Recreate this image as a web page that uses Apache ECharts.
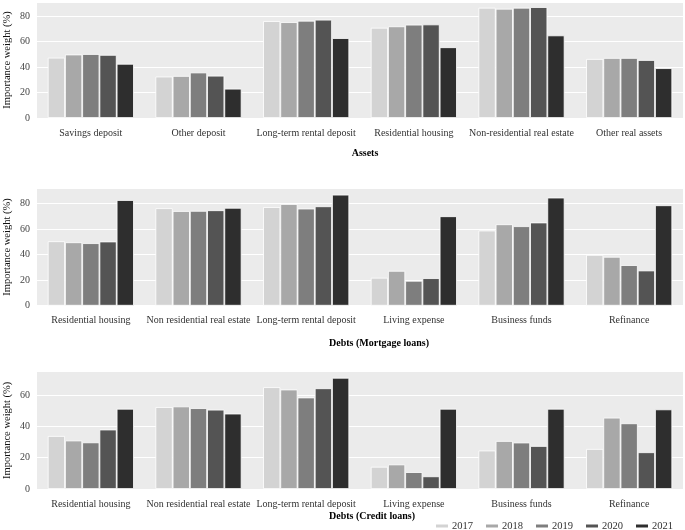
<!DOCTYPE html>
<html><head><meta charset="utf-8">
<script src="https://cdn.jsdelivr.net/npm/echarts@6/dist/echarts.min.js"></script>
<style>html,body{margin:0;padding:0;background:#fff}#c{width:685px;height:530px}</style>
</head><body><div id="c"></div>
<script>
const years = ['2017','2018','2019','2020','2021'];
const assetCats = ['Savings deposit','Other deposit','Long-term rental deposit','Residential housing','Non-residential real estate','Other real assets'];
const mortgageCats = ['Residential housing','Non residential real estate','Long-term rental deposit','Living expense','Business funds','Refinance'];
const creditCats = ['Residential housing','Non residential real estate','Long-term rental deposit','Living expense','Business funds','Refinance'];
// values per year, per category
const assets2017 = [47.3, 32.5, 76.0, 70.8, 86.5, 46.3];
const assets2018 = [49.8, 33.0, 75.2, 71.9, 85.7, 47.1];
const assets2019 = [50.2, 35.7, 76.3, 73.2, 86.5, 47.1];
const assets2020 = [49.5, 33.2, 77.1, 73.4, 87.0, 45.5];
const assets2021 = [42.5, 23.0, 62.7, 55.5, 64.8, 39.1];
const mortgage2017 = [50.5, 76.4, 77.3, 21.9, 58.9, 39.8];
const mortgage2018 = [49.7, 74.2, 79.7, 27.3, 63.8, 38.3];
const mortgage2019 = [49.0, 74.3, 76.1, 19.5, 62.3, 31.8];
const mortgage2020 = [50.3, 74.8, 77.9, 21.6, 65.2, 27.6];
const mortgage2021 = [82.8, 76.7, 87.0, 70.1, 84.7, 78.7];
const credit2017 = [33.9, 52.4, 65.1, 14.2, 24.6, 25.6];
const credit2018 = [31.0, 52.8, 63.6, 15.7, 30.7, 45.6];
const credit2019 = [29.8, 51.7, 58.5, 10.8, 29.7, 42.0];
const credit2020 = [38.0, 50.7, 64.4, 8.1, 27.5, 23.5];
const credit2021 = [51.3, 48.2, 71.1, 51.3, 51.3, 50.9];
const yTicks = [0, 20, 40, 60, 80];
const panelTitles = ['Assets', 'Debts (Mortgage loans)', 'Debts (Credit loans)'];

const colors = ['#d3d3d3','#a8a8a8','#7e7e7e','#545454','#2e2e2e'];
const serif = '"Liberation Serif","DejaVu Serif",serif';
const panels = [
  {cats: assetCats, data: [assets2017,assets2018,assets2019,assets2020,assets2021], top: 2, h: 116, max: 91},
  {cats: mortgageCats, data: [mortgage2017,mortgage2018,mortgage2019,mortgage2020,mortgage2021], top: 188.3, h: 117.4, max: 92},
  {cats: creditCats, data: [credit2017,credit2018,credit2019,credit2020,credit2021], top: 371.7, h: 117.3, max: 75}
];
const titlePos = [{x: 365, y: 148}, {x: 379, y: 338}, {x: 372, y: 511.5}];

const grid = [], xAxis = [], yAxis = [], series = [], title = [];
panels.forEach((p, i) => {
  grid.push({left: 37, right: 2, top: p.top, height: p.h, show: true, backgroundColor: '#ebebeb', borderWidth: 0,
    containLabel: false, outerBoundsMode: 'none'});
  xAxis.push({type: 'category', gridIndex: i, data: p.cats,
    axisLine: {show: false}, axisTick: {show: false},
    axisLabel: {fontFamily: serif, fontSize: 10, color: '#333', margin: 10, interval: 0}});
  yAxis.push({type: 'value', gridIndex: i, min: 0, max: p.max, interval: 20,
    name: 'Importance weight (%)', nameLocation: 'middle', nameGap: 24, nameRotate: 90, nameMoveOverlap: false,
    nameTextStyle: {fontFamily: serif, fontSize: 10.5, color: '#111'},
    axisLine: {show: false}, axisTick: {show: false},
    axisLabel: {fontFamily: serif, fontSize: 10, color: '#444', margin: 7,
      formatter: v => yTicks.includes(v) ? String(v) : ''},
    splitLine: {lineStyle: {color: '#ffffff', width: 1}}});
  years.forEach((y, k) => {
    series.push({name: y, type: 'bar', xAxisIndex: i, yAxisIndex: i, data: p.data[k],
      barGap: '0%', barCategoryGap: '20%',
      itemStyle: {color: colors[k], borderColor: '#ffffff', borderWidth: 0.8}});
  });
  title.push({text: panelTitles[i], left: titlePos[i].x, top: titlePos[i].y, textAlign: 'center', padding: 0,
    textStyle: {fontFamily: serif, fontSize: 10, fontWeight: 'bold', color: '#000'}});
});

const chart = echarts.init(document.getElementById('c'), null, {renderer: 'canvas'});
chart.setOption({
  animation: false,
  color: colors,
  title: title,
  legend: {data: years, left: 434, top: 520.5, padding: 0, itemWidth: 14, itemHeight: 5, itemGap: 11,
    icon: 'rect', textStyle: {fontFamily: serif, fontSize: 10.5, color: '#333', padding: [0,0,0,-2]}},
  grid: grid, xAxis: xAxis, yAxis: yAxis, series: series
});
</script></body></html>
